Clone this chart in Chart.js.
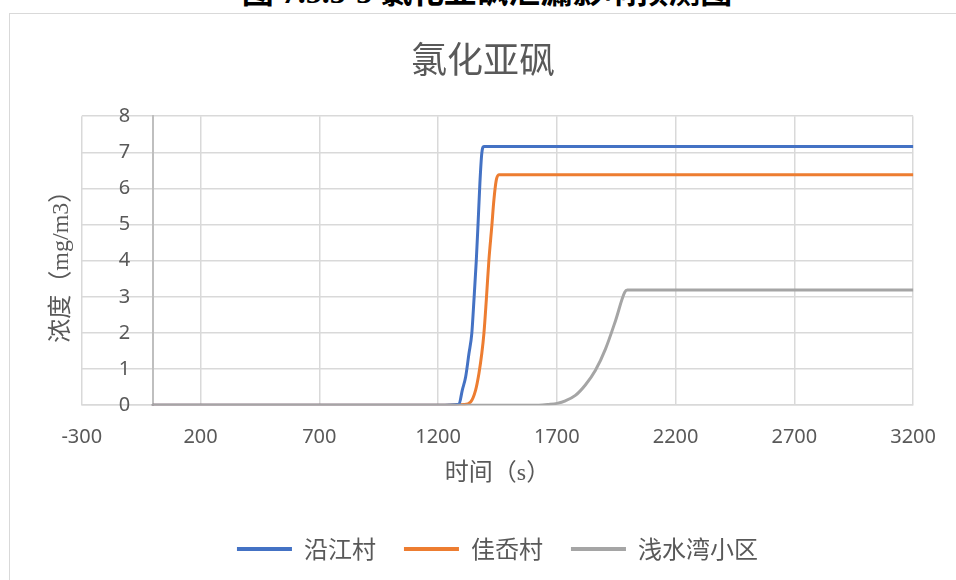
<!DOCTYPE html>
<html>
<head>
<meta charset="utf-8">
<script src="https://cdn.jsdelivr.net/npm/chart.js@4/dist/chart.umd.min.js"></script>
<style>
  html, body { margin: 0; padding: 0; background: #fff; overflow: hidden; }
  #page { position: relative; width: 956px; height: 580px; overflow: hidden; }
  #caption {
    position: absolute; left: 9px; top: -24px; width: 956px;
    text-align: center; white-space: nowrap; color: #000;
    font: bold 32px/32px "Liberation Serif", "Noto Sans CJK SC", serif;
  }
  #frame {
    position: absolute; left: 9px; top: 13px; width: 1000px; height: 620px;
    border: 1px solid #d9d9d9; box-sizing: border-box;
  }
  #wrap { position: absolute; left: 0; top: 0; width: 956px; height: 580px; }
</style>
</head>
<body>
<div id="page">
  <div id="caption">图 7.5.3-3 氯化亚砜泄漏影响预测图</div>
  <div id="frame"></div>
  <div id="wrap"><canvas id="chart" width="956" height="580"></canvas></div>
</div>
<script>
// Time axis ticks (s) and concentration ticks (mg/m3)
const timeTicks = [-300, 200, 700, 1200, 1700, 2200, 2700, 3200];
const concTicks = [0, 1, 2, 3, 4, 5, 6, 7, 8];

// 沿江村
const yanjiangTime = [0, 200, 700, 1200, 1288, 1302, 1316, 1330, 1342, 1351, 1361, 1369, 1376, 1384, 1393, 1700, 2200, 2700, 3200];
const yanjiangConc = [0, 0, 0, 0, 0.03, 0.42, 0.78, 1.43, 1.99, 2.91, 4.02, 5.12, 6.14, 6.97, 7.16, 7.16, 7.16, 7.16, 7.16];

// 佳岙村
const jiaaoTime = [0, 200, 700, 1200, 1309, 1337, 1358, 1372, 1384, 1393, 1403, 1414, 1426, 1435, 1445, 1456, 1700, 2200, 2700, 3200];
const jiaaoConc = [0, 0, 0, 0, 0.02, 0.09, 0.42, 0.88, 1.43, 1.99, 2.91, 4.02, 4.94, 5.68, 6.23, 6.38, 6.38, 6.38, 6.38, 6.38];

// 浅水湾小区
const qianshuiwanTime = [0, 200, 700, 1200, 1624, 1666, 1701, 1736, 1778, 1820, 1862, 1905, 1947, 1986, 1997, 2200, 2700, 3200];
const qianshuiwanConc = [0, 0, 0, 0, 0, 0.02, 0.05, 0.12, 0.27, 0.56, 0.96, 1.56, 2.34, 3.13, 3.19, 3.19, 3.19, 3.19];

const seriesNames = ['沿江村', '佳岙村', '浅水湾小区'];
const seriesColors = ['#4472C4', '#ED7D31', '#A5A5A5'];

// The vertical axis line crosses at t = 0; its tick labels sit a little to the left of it
const axisCrossTime = 0;
const concLabelAnchor = -96;

const toPoints = (ts, vs) => ts.map((t, i) => ({ x: t, y: vs[i] }));

const grey = '#595959';
const tickFont = { family: "'Noto Sans', sans-serif", size: 20 };
const axisTitleFont = { family: "'Liberation Serif', 'Noto Sans CJK SC', serif", size: 24 };

const lineStyle = (i, order) => ({
  label: seriesNames[i],
  borderColor: seriesColors[i],
  backgroundColor: seriesColors[i],
  borderWidth: 3,
  pointRadius: 0,
  pointHoverRadius: 0,
  cubicInterpolationMode: 'monotone',
  borderCapStyle: 'round',
  borderJoinStyle: 'round',
  fill: false,
  order: order
});

const concRange = { min: concTicks[0], max: concTicks[concTicks.length - 1] };

new Chart(document.getElementById('chart'), {
  type: 'line',
  data: {
    datasets: [
      Object.assign(lineStyle(0, 1), { data: toPoints(yanjiangTime, yanjiangConc) }),
      Object.assign(lineStyle(1, 2), { data: toPoints(jiaaoTime, jiaaoConc) }),
      Object.assign(lineStyle(2, 0), { data: toPoints(qianshuiwanTime, qianshuiwanConc) })
    ]
  },
  options: {
    responsive: false,
    animation: false,
    devicePixelRatio: 1,
    layout: { padding: { top: 0, left: 47, right: 37, bottom: 9 } },
    plugins: {
      tooltip: { enabled: false },
      title: {
        display: true,
        text: '氯化亚砜',
        color: grey,
        font: { family: "'Noto Sans CJK SC', sans-serif", size: 36, weight: 'normal' },
        padding: { top: 38, bottom: 35 }
      },
      legend: {
        position: 'bottom',
        fullSize: false,
        labels: {
          boxWidth: 55,
          boxHeight: 4,
          padding: 28,
          color: grey,
          font: { family: "'Noto Sans CJK SC', sans-serif", size: 24 },
          sort: (a, b) => a.datasetIndex - b.datasetIndex,
          generateLabels: (chart) =>
            Chart.defaults.plugins.legend.labels.generateLabels(chart).map(item =>
              Object.assign(item, { lineWidth: 0, fillStyle: seriesColors[item.datasetIndex] }))
        }
      }
    },
    scales: {
      x: {
        type: 'linear',
        position: 'bottom',
        min: timeTicks[0],
        max: timeTicks[timeTicks.length - 1],
        afterBuildTicks: (s) => { s.ticks = timeTicks.map(v => ({ value: v })); },
        ticks: { color: grey, font: tickFont, padding: 20, maxRotation: 0, callback: (v) => String(v) },
        grid: { color: '#d9d9d9', lineWidth: 1.5, drawTicks: false },
        border: { display: true, color: '#d9d9d9', width: 1.5 },
        title: {
          display: true, text: '时间（s）', color: grey, font: axisTitleFont,
          padding: { top: -10, bottom: 21 }
        }
      },
      y: {
        type: 'linear',
        position: { x: concLabelAnchor },
        ...concRange,
        afterBuildTicks: (s) => { s.ticks = concTicks.map(v => ({ value: v })); },
        ticks: { color: grey, font: tickFont, padding: 0, callback: (v) => String(v) },
        grid: { color: '#d9d9d9', lineWidth: 1.5, drawTicks: false },
        border: { display: false }
      },
      yLine: {
        type: 'linear',
        position: { x: axisCrossTime },
        ...concRange,
        ticks: { display: false },
        grid: { display: false, drawTicks: false },
        border: { display: true, color: '#bfbfbf', width: 2 }
      },
      yTitle: {
        type: 'linear',
        position: 'left',
        ...concRange,
        grid: { display: false, drawTicks: false },
        border: { display: false },
        ticks: { display: false },
        title: {
          display: true, text: '浓度（mg/m3）', color: grey, font: axisTitleFont,
          padding: { top: 0, bottom: 6 }
        }
      }
    }
  }
});
</script>
</body>
</html>
